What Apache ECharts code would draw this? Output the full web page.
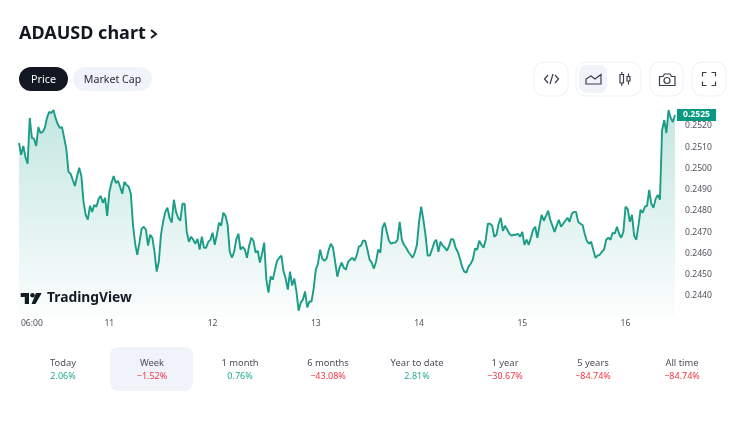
<!DOCTYPE html>
<html>
<head>
<meta charset="utf-8">
<title>ADAUSD chart</title>
<script src="https://cdn.jsdelivr.net/npm/echarts@6/dist/echarts.min.js"></script>
<style>
html,body{margin:0;padding:0;background:#fff;}
#box{width:750px;height:422px;}
</style>
</head>
<body>
<div id="box"></div>
<script>
// half hour closes
const prices = [
.25120,.25064,.25106,.25054,.25022,.25238,.25144,.25139,.25106,.25195,
.25167,.25172,.25191,.25238,.25266,.25261,.25275,.25238,.25209,.25191,
.25195,.25144,.25092,.24984,.24975,.24946,.24918,.24965,.25003,.24965,
.24843,.24782,.24759,.24824,.24796,.24829,.24820,.24857,.24871,.24838,
.24862,.24777,.24890,.24932,.24965,.24932,.24942,.24914,.24881,.24937,
.24923,.24914,.24881,.24735,.24646,.24594,.24651,.24716,.24726,.24712,
.24637,.24688,.24674,.24608,.24515,.24561,.24688,.24749,.24796,.24815,
.24768,.24745,.24853,.24796,.24768,.24754,.24834,.24834,.24702,.24655,
.24679,.24665,.24646,.24669,.24618,.24679,.24627,.24627,.24655,.24665,
.24698,.24641,.24688,.24745,.24731,.24792,.24777,.24735,.24608,.24580,
.24608,.24665,.24693,.24618,.24632,.24618,.24580,.24637,.24674,.24660,
.24604,.24613,.24557,.24599,.24651,.24477,.24416,.24491,.24477,.24524,
.24566,.24580,.24590,.24515,.24482,.24430,.24515,.24449,.24482,.24421,
.24331,.24369,.24383,.24421,.24346,.24374,.24374,.24435,.24524,.24552,
.24618,.24576,.24566,.24576,.24618,.24646,.24627,.24561,.24491,.24533,
.24557,.24533,.24524,.24561,.24571,.24580,.24566,.24590,.24632,.24637,
.24660,.24660,.24618,.24571,.24557,.24529,.24561,.24618,.24604,.24721,
.24745,.24702,.24660,.24646,.24651,.24651,.24665,.24749,.24665,.24641,
.24627,.24608,.24594,.24580,.24604,.24641,.24749,.24820,.24759,.24688,
.24590,.24590,.24618,.24651,.24665,.24608,.24655,.24637,.24627,.24613,
.24637,.24669,.24665,.24627,.24608,.24576,.24538,.24515,.24510,.24538,
.24552,.24571,.24623,.24618,.24660,.24641,.24627,.24665,.24740,.24740,
.24731,.24679,.24688,.24740,.24768,.24707,.24731,.24712,.24693,.24684,
.24688,.24688,.24693,.24679,.24702,.24641,.24665,.24641,.24674,.24712,
.24726,.24674,.24731,.24782,.24754,.24777,.24801,.24759,.24731,.24702,
.24731,.24759,.24726,.24740,.24754,.24768,.24749,.24787,.24796,.24796,
.24749,.24740,.24735,.24693,.24660,.24646,.24655,.24618,.24580,.24590,
.24594,.24608,.24618,.24665,.24674,.24665,.24698,.24693,.24726,.24693,
.24674,.24702,.24820,.24810,.24749,.24782,.24684,.24665,.24731,.24806,
.24792,.24820,.24824,.24899,.24834,.24815,.24857,.24876,.24853,.25181,
.25228,.25167,.25275,.25238,.25219,.25252
];
const tickIndexes = [6,42,90,138,186,234,282];
const tickLabels = ["06:00","11","12","13","14","15","16"];
const periods = ["Today","Week","1 month","6 months","Year to date","1 year","5 years","All time"];
const changes = ["2.06%","−1.52%","0.76%","−43.08%","2.81%","−30.67%","−84.74%","−84.74%"];
const periodX = [63,152,240,328,417,505,593,682];

const font = '"Noto Sans", sans-serif';
const up = "#089981", line = "#1a9c86", upText = "#22ab94", down = "#f23645", ink = "#131722", soft = "#f0f3fa", border = "#eef0f5";
const iconInk = "#3a3e4a";

function button(x, y, w, h){
    return {type:"rect",shape:{x:x,y:y,width:w,height:h,r:10},style:{fill:"#fff",stroke:border,lineWidth:1}};
}
function stroke(points){
    return {type:"polyline",shape:{points:points},style:{fill:null,stroke:iconInk,lineWidth:1.2}};
}
function outline(points){
    return {type:"polygon",shape:{points:points},style:{fill:null,stroke:iconInk,lineWidth:1.2}};
}
function ring(cx, cy, r){
    return {type:"circle",shape:{cx:cx,cy:cy,r:r},style:{fill:null,stroke:iconInk,lineWidth:1.2}};
}
function solid(points){
    return {type:"polygon",shape:{points:points},style:{fill:ink}};
}

let elements = [
    {type:"text",x:19,y:33.5,style:{text:"ADAUSD chart",font:"bold 18px "+font,fill:ink,textVerticalAlign:"middle"}},
    {type:"polyline",shape:{points:[[151,30],[156,34],[151,38]]},style:{stroke:ink,lineWidth:2,fill:null}},
    {type:"rect",shape:{x:19,y:67,width:49,height:24,r:12},style:{fill:ink}},
    {type:"text",x:43.5,y:79.7,style:{text:"Price",font:"10.8px "+font,fill:"#fff",textAlign:"center",textVerticalAlign:"middle"}},
    {type:"rect",shape:{x:73,y:67,width:79,height:24,r:12},style:{fill:soft}},
    {type:"text",x:112.5,y:79.7,style:{text:"Market Cap",font:"10.6px "+font,fill:"#2a2e39",textAlign:"center",textVerticalAlign:"middle"}},
    button(534,62,34,34),
    button(576,62,65,34),
    {type:"rect",shape:{x:579,y:65,width:28,height:28,r:7},style:{fill:soft}},
    button(650,62,33,34),
    button(692,62,34,34),
    // toolbar icons
    stroke([[548,75],[544.5,79],[548,83]]),
    stroke([[550,84],[553,74]]),
    stroke([[555,75],[558.5,79],[555,83]]),
    outline([[586,84],[586,79],[591,76],[595,79],[601,74.5],[601,84]]),
    stroke([[621.8,72],[621.8,74.5]]),
    outline([[620,74.5],[623.5,74.5],[623.5,83],[620,83]]),
    stroke([[621.8,83],[621.8,86]]),
    stroke([[628.5,73.5],[628.5,76.5]]),
    outline([[627,76.5],[630,76.5],[630,81],[627,81]]),
    stroke([[628.5,81],[628.5,84.5]]),
    outline([[659.5,76.5],[663,76.5],[664.5,74],[670,74],[671.5,76.5],[675,76.5],[675,85.5],[659.5,85.5]]),
    ring(667,80.5,3),
    stroke([[702.5,76.5],[702.5,72.5],[706.5,72.5]]),
    stroke([[711.5,72.5],[715.5,72.5],[715.5,76.5]]),
    stroke([[715.5,81.5],[715.5,85.5],[711.5,85.5]]),
    stroke([[706.5,85.5],[702.5,85.5],[702.5,81.5]]),
    // tradingview mark
    solid([[20.7,293],[29,293],[29,304],[24.8,304],[24.8,297],[20.7,297]]),
    solid([[36,293],[41.7,293],[35.5,304],[31.5,304]]),
    {type:"circle",shape:{cx:32.5,cy:295.3,r:2.3},style:{fill:ink}},
    {type:"text",x:47,y:298.5,style:{text:"TradingView",font:"bold 13.8px "+font,fill:ink,textVerticalAlign:"middle"}},
    {type:"rect",shape:{x:110,y:347,width:83,height:44,r:8},style:{fill:soft}}
];
periods.forEach(function(name,i){
    elements.push({type:"text",x:periodX[i],y:363,style:{text:name,font:"9.4px "+font,fill:"#4a4e5a",textAlign:"center",textVerticalAlign:"middle"}});
    elements.push({type:"text",x:periodX[i],y:376,style:{text:changes[i],font:"9px "+font,fill:changes[i][0]=="−" ? down : upText,textAlign:"center",textVerticalAlign:"middle"}});
});

let mycharts = echarts.init(document.getElementById("box"));
mycharts.setOption({
    backgroundColor:"#fff",
    animation:false,
    grid:{left:19,top:104.75,width:656,height:212.5},
    xAxis:{
        type:"category",
        boundaryGap:false,
        data:prices.map(function(p,i){ return i; }),
        axisLine:{show:false},
        axisTick:{show:false},
        axisLabel:{
            margin:1.5,
            fontSize:8.6,
            fontFamily:font,
            color:"#50535e",
            interval:function(i){ return tickIndexes.indexOf(i) >= 0; },
            formatter:function(v){ return tickLabels[tickIndexes.indexOf(Number(v))]; }
        },
        splitLine:{show:false}
    },
    yAxis:{
        type:"value",
        position:"right",
        min:0.243,
        max:0.253,
        interval:0.001,
        axisLine:{show:false},
        axisTick:{show:false},
        splitLine:{show:false},
        axisLabel:{
            margin:10,
            fontSize:8.6,
            fontFamily:font,
            color:"#50535e",
            formatter:function(v){ return v < 0.2435 || v > 0.2525 ? "" : v.toFixed(4); }
        }
    },
    series:[{
        type:"line",
        data:prices,
        symbol:"none",
        lineStyle:{color:line,width:1.9},
        itemStyle:{color:up},
        areaStyle:{
            color:new echarts.graphic.LinearGradient(0,0,0,1,[
                {offset:0,color:"rgba(8,153,129,0.34)"},
                {offset:1,color:"rgba(8,153,129,0.02)"}
            ])
        },
        endLabel:{
            show:true,
            distance:2,
            formatter:function(p){ return p.value.toFixed(4); },
            color:"#fff",
            fontSize:8.6,
            fontWeight:"bold",
            fontFamily:font,
            backgroundColor:up,
            padding:[2,6,1,6]
        }
    }],
    graphic:{elements:elements}
});
</script>
</body>
</html>
